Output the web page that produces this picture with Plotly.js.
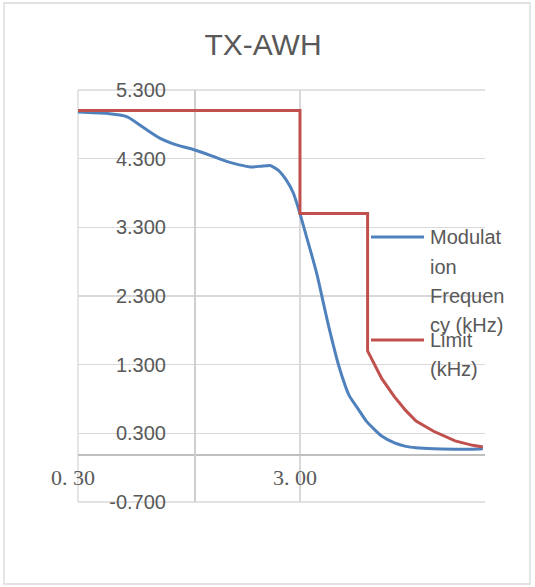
<!DOCTYPE html>
<html>
<head>
<meta charset="utf-8">
<script src="https://cdn.plot.ly/plotly-3.0.1.min.js"></script>
<style>html,body{margin:0;padding:0;background:#fff;}#chart{width:535px;height:587px;}</style>
</head>
<body>
<div id="chart"></div>
<script>
// ---- data (kHz) ----
var chartTitle = "TX-AWH";
var seriesNames = ["Modulation Frequency (kHz)", "Limit (kHz)"];
var legendLines = [["Modulat", "ion", "Frequen", "cy (kHz)"], ["Limit", "(kHz)"]];

var modFreq = [0.3, 0.4, 0.5, 0.6, 0.7, 0.8, 0.9, 1.0, 1.2, 1.4, 1.6, 1.8, 2.0, 2.2, 2.4, 2.6, 2.8, 3.0, 3.2, 3.4, 3.6, 3.8, 4.0, 4.5, 5.0, 5.5, 6.0, 7.0, 8.0, 9.0, 10, 12, 15, 18, 20];
var modValue = [4.98, 4.96, 4.91, 4.74, 4.60, 4.52, 4.47, 4.43, 4.34, 4.26, 4.21, 4.18, 4.19, 4.20, 4.13, 3.99, 3.80, 3.50, 3.18, 2.88, 2.58, 2.24, 1.92, 1.27, 0.85, 0.65, 0.47, 0.26, 0.16, 0.11, 0.09, 0.075, 0.07, 0.07, 0.075];

var limitFreq = [0.3, 3.0, 3.0, 6.05, 6.05, 7, 8, 9, 10, 12, 15, 18, 20];
var limitValue = [5.0, 5.0, 3.5, 3.5, 1.5, 1.1, 0.83, 0.63, 0.48, 0.33, 0.19, 0.125, 0.1];

var xTickVals = [0.3, 3];
var xTickText = ["0. 30", "3. 00"];
var yTickVals = [-0.7, 0.3, 1.3, 2.3, 3.3, 4.3, 5.3];
var yTickText = ["-0.700", "0.300", "1.300", "2.300", "3.300", "4.300", "5.300"];

// ---- geometry (pixels) ----
var W = 535, H = 587;
var L = 78, R = 485, T = 90, B = 502;
var pw = R - L, ph = B - T;
function px(x) { return (x - L) / pw; }
function py(y) { return (B - y) / ph; }

var blue = "#4F81BD", red = "#C0504D", txt = "#595959", grid = "#d9d9d9";

var traces = [
  { x: modFreq, y: modValue, type: "scatter", mode: "lines", name: seriesNames[0],
    line: { color: blue, width: 3, shape: "spline", smoothing: 0.5 }, showlegend: false, hoverinfo: "skip" },
  { x: limitFreq, y: limitValue, type: "scatter", mode: "lines", name: seriesNames[1],
    line: { color: red, width: 3 }, showlegend: false, hoverinfo: "skip" }
];

var legendY = [[237, 266.5, 295.5, 325], [340, 369]];
var lineY = [237, 340];
var colors = [blue, red];
var annotations = [];
var edge = { color: grid, width: 1.3 };
var shapes = [
  { type: "rect", xref: "paper", yref: "paper", x0: px(4), x1: px(530), y0: py(584), y1: py(3),
    line: { color: grid, width: 1.3 }, fillcolor: "rgba(0,0,0,0)", layer: "below" },
  // plot-area edge gridlines (top, bottom, left)
  { type: "line", xref: "paper", yref: "paper", x0: 0, x1: 1, y0: 1, y1: 1, line: edge, layer: "below" },
  { type: "line", xref: "paper", yref: "paper", x0: 0, x1: 1, y0: 0, y1: 0, line: edge, layer: "below" },
  { type: "line", xref: "paper", yref: "paper", x0: 0, x1: 0, y0: 0, y1: 1, line: edge, layer: "below" }
];
for (var i = 0; i < legendLines.length; i++) {
  shapes.push({ type: "line", xref: "paper", yref: "paper", x0: px(371), x1: px(424), y0: py(lineY[i]), y1: py(lineY[i]),
    line: { color: colors[i], width: 3 } });
  for (var j = 0; j < legendLines[i].length; j++) {
    annotations.push({ text: legendLines[i][j], xref: "paper", yref: "paper", x: px(428), y: py(legendY[i][j]),
      xanchor: "left", yanchor: "middle", showarrow: false,
      font: { family: "Liberation Sans, Arial, sans-serif", size: 20, color: txt } });
  }
}

var layout = {
  width: W, height: H,
  margin: { l: L, r: W - R, t: T, b: H - B, pad: 0 },
  paper_bgcolor: "#ffffff", plot_bgcolor: "#ffffff",
  showlegend: false,
  title: { text: chartTitle, x: 263 / W, xanchor: "center", xref: "container",
    y: 1 - 44 / H, yanchor: "middle", yref: "container",
    font: { family: "Liberation Sans, Arial, sans-serif", size: 30, color: txt } },
  xaxis: {
    type: "log", range: [Math.log10(0.3), Math.log10(20.45)],
    tickvals: xTickVals, ticktext: xTickText,
    showgrid: true, gridcolor: grid, gridwidth: 1.3,
    zeroline: false, anchor: "free", position: py(454),
    showline: true, linecolor: "#bfbfbf", linewidth: 1.5, layer: "below traces",
    ticks: "", ticklabelstandoff: 3, ticklabelshift: -5,
    tickfont: { family: "Liberation Serif, serif", size: 22, color: txt }
  },
  yaxis: {
    range: [-0.7, 5.3], tickvals: yTickVals, ticktext: yTickText,
    showgrid: true, gridcolor: grid, gridwidth: 1.3, zeroline: false,
    anchor: "free", position: px(194),
    showline: true, linecolor: "#cfcfcf", linewidth: 1.5, layer: "below traces",
    ticks: "", ticklabelstandoff: 24,
    tickfont: { family: "Liberation Sans, Arial, sans-serif", size: 20, color: txt }
  },
  shapes: shapes,
  annotations: annotations
};

Plotly.newPlot("chart", traces, layout, { staticPlot: true, displayModeBar: false });
</script>
</body>
</html>
